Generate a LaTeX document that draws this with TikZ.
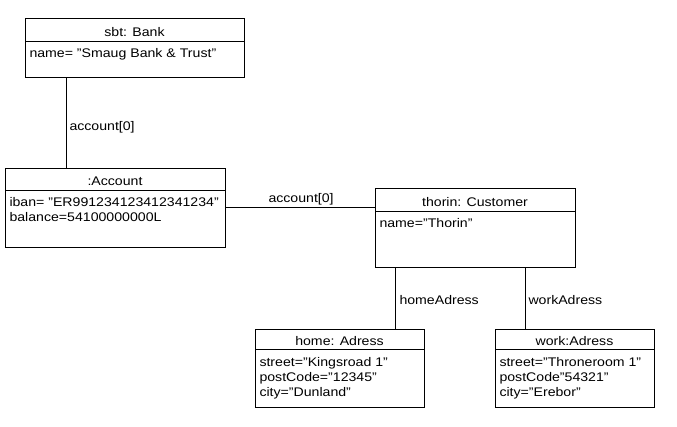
\documentclass[tikz,border=0pt]{standalone}
\usepackage{fontspec}
\setmainfont{Liberation Sans}[FakeStretch=1.13]
\begin{document}
\begin{tikzpicture}[x=1pt,y=-1pt,line width=1pt,
  objbox/.style={draw=black,inner sep=0pt,anchor=north west},
  txt/.style={inner sep=0pt,anchor=base west,font=\fontsize{12.5}{15}\selectfont},
  ttl/.style={inner sep=0pt,anchor=base,font=\fontsize{12.5}{15}\selectfont},
  conn/.style={draw=black,line width=1pt}]
\useasboundingbox[fill=white] (0,0) rectangle (677,427);
% boxes
\node[objbox,minimum width=219pt,minimum height=59pt] (bank) at (25,18) {};
\node[objbox,minimum width=220pt,minimum height=79pt] (account) at (5,168) {};
\node[objbox,minimum width=200pt,minimum height=79pt] (customer) at (375,188) {};
\node[objbox,minimum width=169pt,minimum height=78pt] (home) at (255,329) {};
\node[objbox,minimum width=159pt,minimum height=78pt] (work) at (495,329) {};
% dividers
\draw ([yshift=-24pt]bank.north west) -- ([yshift=-24pt]bank.north east);
\draw ([yshift=-23pt]account.north west) -- ([yshift=-23pt]account.north east);
\draw ([yshift=-24pt]customer.north west) -- ([yshift=-24pt]customer.north east);
\draw ([yshift=-21pt]home.north west) -- ([yshift=-21pt]home.north east);
\draw ([yshift=-21pt]work.north west) -- ([yshift=-21pt]work.north east);
% titles
\node[ttl] (bankT) at (134.5,37) {sbt: Bank};
\node[ttl] (accountT) at (115,186) {:Account};
\node[ttl] (customerT) at (475,207) {thorin: Customer};
\node[ttl] (homeT) at (339.5,345) {home: Adress};
\node[ttl] (workT) at (574.5,345) {work:Adress};
% attributes
\node[txt] (bankA) at (29,58) {name= "Smaug Bank \& Trust"};
\node[txt] (accA) at (9,207) {iban= "ER991234123412341234"};
\node[txt] (accB) at (9,222) {balance=54100000000L};
\node[txt] (custA) at (379,228) {name="Thorin"};
\node[txt] (homeA) at (259,366.5) {street="Kingsroad 1"};
\node[txt] (homeB) at (259,381.5) {postCode="12345"};
\node[txt] (homeC) at (259,396.5) {city="Dunland"};
\node[txt] (workA) at (499,366.5) {street="Throneroom 1"};
\node[txt] (workB) at (499,381.5) {postCode"54321"};
\node[txt] (workC) at (499,396.5) {city="Erebor"};
% connectors
\draw[conn] ([xshift=41pt]bank.south west) -- ([xshift=41pt]bank.south west |- account.north);
\draw[conn] ([yshift=-40pt]account.north east) -- ([yshift=-40pt]account.north east -| customer.west);
\draw[conn] ([xshift=20pt]customer.south west) -- ([xshift=20pt]customer.south west |- home.north);
\draw[conn] ([xshift=150pt]customer.south west) -- ([xshift=150pt]customer.south west |- work.north);
% connector labels
\node[txt] (l1) at (69,131) {account[0]};
\node[txt] (l2) at (268,203) {account[0]};
\node[txt] (l3) at (399,305) {homeAdress};
\node[txt] (l4) at (528,305) {workAdress};
\end{tikzpicture}
\end{document}
